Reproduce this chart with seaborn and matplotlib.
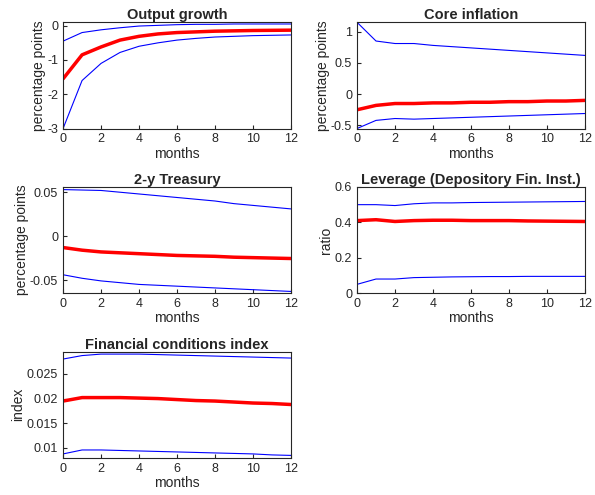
import numpy as np
import seaborn as sns
import matplotlib
matplotlib.use("Agg")
import matplotlib.pyplot as plt

months = list(range(13))

out_mid = [-1.55, -0.85, -0.62, -0.42, -0.31, -0.24, -0.2, -0.18, -0.16, -0.15, -0.14, -0.135, -0.13]
out_up = [-0.45, -0.2, -0.12, -0.06, -0.01, 0.01, 0.03, 0.04, 0.04, 0.05, 0.05, 0.05, 0.05]
out_lo = [-3.0, -1.6, -1.1, -0.78, -0.6, -0.5, -0.42, -0.37, -0.33, -0.31, -0.29, -0.28, -0.27]

core_mid = [-0.25, -0.18, -0.15, -0.15, -0.14, -0.14, -0.13, -0.13, -0.12, -0.12, -0.11, -0.11, -0.1]
core_up = [1.15, 0.85, 0.81, 0.81, 0.78, 0.76, 0.74, 0.72, 0.70, 0.68, 0.66, 0.64, 0.62]
core_lo = [-0.55, -0.42, -0.39, -0.4, -0.39, -0.38, -0.37, -0.36, -0.35, -0.34, -0.33, -0.32, -0.31]

tr_mid = [-0.013, -0.016, -0.018, -0.019, -0.020, -0.021, -0.022, -0.0225, -0.023, -0.024, -0.0245, -0.025, -0.0255]
tr_up = [0.053, 0.0525, 0.052, 0.050, 0.048, 0.046, 0.044, 0.042, 0.040, 0.037, 0.035, 0.033, 0.031]
tr_lo = [-0.044, -0.048, -0.051, -0.053, -0.055, -0.056, -0.057, -0.058, -0.059, -0.060, -0.061, -0.062, -0.063]

lev_mid = [0.41, 0.415, 0.405, 0.41, 0.412, 0.412, 0.41, 0.41, 0.41, 0.408, 0.407, 0.406, 0.405]
lev_up = [0.5, 0.5, 0.495, 0.505, 0.51, 0.51, 0.512, 0.513, 0.514, 0.515, 0.516, 0.517, 0.518]
lev_lo = [0.05, 0.08, 0.08, 0.088, 0.09, 0.092, 0.093, 0.094, 0.094, 0.095, 0.095, 0.095, 0.095]

fci_mid = [0.0195, 0.0202, 0.0202, 0.0202, 0.0201, 0.02, 0.0198, 0.0196, 0.0195, 0.0193, 0.0191, 0.019, 0.0188]
fci_up = [0.028, 0.0287, 0.029, 0.029, 0.029, 0.0289, 0.0288, 0.0287, 0.0286, 0.0285, 0.0284, 0.0283, 0.0282]
fci_lo = [0.0088, 0.0096, 0.0096, 0.0095, 0.0094, 0.0093, 0.0092, 0.0091, 0.009, 0.0089, 0.0088, 0.0086, 0.0085]

panels = [
    ("Output growth", "percentage points", out_mid, out_up, out_lo, (-3, 0.1), [-3, -2, -1, 0]),
    ("Core inflation", "percentage points", core_mid, core_up, core_lo, (-0.55, 1.15), [-0.5, 0, 0.5, 1]),
    ("2-y Treasury", "percentage points", tr_mid, tr_up, tr_lo, (-0.065, 0.056), [-0.05, 0, 0.05]),
    ("Leverage (Depository Fin. Inst.)", "ratio", lev_mid, lev_up, lev_lo, (0, 0.6), [0, 0.2, 0.4, 0.6]),
    ("Financial conditions index", "index", fci_mid, fci_up, fci_lo, (0.008, 0.0295), [0.01, 0.015, 0.02, 0.025]),
]

sns.set_style("ticks")
plt.rcParams['font.family'] = ['Liberation Sans', 'DejaVu Sans']
fig, axes = plt.subplots(3, 2, figsize=(5.95, 4.95), dpi=100)
for ax, (title, ylab, mid, up, lo, ylim, yt) in zip(axes.flat, panels):
    sns.lineplot(x=months, y=up, ax=ax, color='blue', linewidth=0.8)
    sns.lineplot(x=months, y=lo, ax=ax, color='blue', linewidth=0.8)
    sns.lineplot(x=months, y=mid, ax=ax, color='red', linewidth=2.5)
    ax.set_xlim(0, 12)
    ax.set_ylim(*ylim)
    ax.set_yticks(yt)
    ax.set_yticklabels([f"{v:g}" for v in yt])
    ax.set_xticks(range(0, 13, 2))
    ax.set_title(title, fontweight='bold', fontsize=10.5, pad=2)
    ax.set_xlabel("months", fontsize=10, labelpad=1)
    ax.set_ylabel(ylab, fontsize=10, labelpad=1)
    ax.tick_params(labelsize=9, direction='in', length=3)
    for s in ax.spines.values():
        s.set_visible(True)
axes[2, 1].axis('off')
fig.subplots_adjust(left=0.106, right=0.983, top=0.955, bottom=0.075, wspace=0.29, hspace=0.55)
fig.savefig("out.png")
